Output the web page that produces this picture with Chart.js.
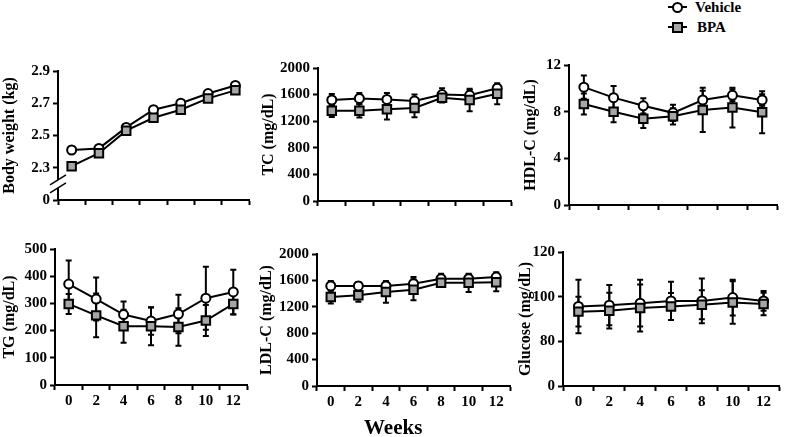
<!DOCTYPE html>
<html>
<head>
<meta charset="utf-8">
<script src="https://cdn.jsdelivr.net/npm/chart.js@4"></script>
<style>
  html, body { margin: 0; padding: 0; background: #fff; }
  #fig { position: relative; width: 787px; height: 437px; overflow: hidden;
         font-family: 'Liberation Serif', 'Times New Roman', serif; font-weight: bold; color: #000; }
  #fig canvas { position: absolute; }
  .txt { position: absolute; white-space: nowrap; line-height: 1; }
  .mk-line { position: absolute; height: 2px; background: #000; }
  .mk-circ { position: absolute; width: 7px; height: 7px; border: 2px solid #000; border-radius: 50%; background: #fff; }
  .mk-sq { position: absolute; width: 7px; height: 7px; border: 2px solid #000; background: #a6a6a6; }
</style>
</head>
<body>
<div id="fig">
  <canvas id="bw"></canvas>
  <canvas id="tc"></canvas>
  <canvas id="hdl"></canvas>
  <canvas id="tg"></canvas>
  <canvas id="ldl"></canvas>
  <canvas id="glu"></canvas>

  <!-- legend -->
  <div class="mk-line" style="left:668px; top:6px; width:19px;"></div>
  <div class="mk-circ" style="left:672px; top:2px;"></div>
  <div class="txt" style="left:695px; top:0px; font-size:15px;">Vehicle</div>
  <div class="mk-line" style="left:668px; top:26px; width:19px;"></div>
  <div class="mk-sq" style="left:672px; top:22px;"></div>
  <div class="txt" style="left:697px; top:20px; font-size:15px;">BPA</div>

  <div class="txt" style="left:364px; top:417px; font-size:21px;">Weeks</div>
</div>

<script>
// weeks on x
const weeks = ['0', '2', '4', '6', '8', '10', '12'];

// Body weight (kg)
const bwVehicle = [2.41, 2.42, 2.55, 2.66, 2.70, 2.76, 2.81];
const bwBPA = [2.31, 2.39, 2.53, 2.61, 2.66, 2.73, 2.78];
const bwVehicleSD = [0.02, 0.02, 0.02, 0.02, 0.02, 0.02, 0.02];
const bwBPASD = [0.02, 0.02, 0.02, 0.02, 0.02, 0.02, 0.02];
const bwTicks = [2.1, 2.3, 2.5, 2.7, 2.9];
const bwTickLabels = ['0', '2.3', '2.5', '2.7', '2.9'];

// TC (mg/dL)
const tcVehicle = [1519, 1543, 1528, 1504, 1600, 1590, 1696];
const tcBPA = [1356, 1356, 1380, 1399, 1552, 1519, 1614];
const tcVehicleSD = [90, 80, 96, 96, 96, 80, 48];
const tcBPASD = [91, 100, 153, 139, 72, 168, 158];
const tcTicks = [0, 400, 800, 1200, 1600, 2000];

// HDL-C (mg/dL)
const hdlVehicle = [10.1, 9.2, 8.5, 7.9, 9.0, 9.4, 9.0];
const hdlBPA = [8.65, 8.0, 7.4, 7.6, 8.15, 8.35, 7.95];
const hdlVehicleSD = [1.0, 1.0, 0.65, 0.7, 0.8, 0.5, 0.5];
const hdlBPASD = [0.9, 0.9, 0.8, 0.7, 1.9, 1.7, 1.8];
const hdlTicks = [0, 4, 8, 12];

// TG (mg/dL)
const tgVehicle = [371, 316, 259, 235, 261, 319, 342];
const tgBPA = [298, 256, 216, 216, 213, 237, 298];
const tgVehicleSD = [87, 79, 48, 50, 71, 116, 82];
const tgBPASD = [37, 80, 61, 70, 69, 57, 39];
const tgTicks = [0, 100, 200, 300, 400, 500];

// LDL-C (mg/dL)
const ldlVehicle = [1516, 1516, 1516, 1550, 1625, 1625, 1650];
const ldlBPA = [1350, 1375, 1424, 1459, 1563, 1563, 1573];
const ldlVehicleSD = [74, 60, 70, 100, 75, 65, 75];
const ldlBPASD = [100, 100, 164, 159, 40, 139, 139];
const ldlTicks = [0, 400, 800, 1200, 1600, 2000];

// Glucose (mg/dL)
const gluVehicle = [95.6, 96.2, 97.1, 98.1, 98.1, 99.6, 98.1];
const gluBPA = [93.3, 93.7, 94.9, 95.6, 96.4, 97.4, 96.7];
const gluVehicleSD = [12, 9, 10.5, 8.6, 10, 8, 4.4];
const gluBPASD = [6.7, 8, 10.5, 6, 6.5, 9.5, 5];
const gluTicks = [60, 80, 100, 120];
const gluTickLabels = ['0', '80', '100', '120'];

const serif = "'Liberation Serif', 'Times New Roman', serif";
const tickFont = { family: serif, size: 15, weight: 'bold' };
const titleFont = { family: serif, size: 16, weight: 'bold' };

// error bars under the markers
const errorBars = {
  id: 'errorBars',
  beforeDatasetsDraw(chart) {
    const ctx = chart.ctx;
    const yScale = chart.scales.y;
    ctx.save();
    ctx.strokeStyle = '#000';
    ctx.lineWidth = 2;
    chart.data.datasets.forEach((ds, i) => {
      if (!ds.sd) return;
      chart.getDatasetMeta(i).data.forEach((pt, j) => {
        const hi = yScale.getPixelForValue(ds.data[j] + ds.sd[j]);
        const lo = yScale.getPixelForValue(ds.data[j] - ds.sd[j]);
        ctx.beginPath();
        ctx.moveTo(pt.x, hi); ctx.lineTo(pt.x, lo);
        ctx.moveTo(pt.x - 3, hi); ctx.lineTo(pt.x + 3, hi);
        ctx.moveTo(pt.x - 3, lo); ctx.lineTo(pt.x + 3, lo);
        ctx.stroke();
      });
    });
    ctx.restore();
  }
};

// the // mark on a broken y axis
const axisBreak = {
  id: 'axisBreak',
  afterDraw(chart, args, opts) {
    const ctx = chart.ctx;
    const x = chart.chartArea.left;
    const y = chart.scales.y.getPixelForValue(opts.value);
    ctx.save();
    ctx.fillStyle = '#fff';
    ctx.fillRect(x - 3, y - 4, 6, 8);
    ctx.strokeStyle = '#000';
    ctx.lineWidth = 1.5;
    [-4, 4].forEach(dy => {
      ctx.beginPath();
      ctx.moveTo(x - 8, y + dy + 5);
      ctx.lineTo(x + 8, y + dy - 5);
      ctx.stroke();
    });
    ctx.restore();
  }
};

function series(vehicle, vehicleSD, bpa, bpaSD) {
  return [{
    label: 'Vehicle',
    data: vehicle,
    sd: vehicleSD,
    order: 2,
    borderColor: '#000',
    borderWidth: 2,
    pointStyle: 'circle',
    pointRadius: 4.5,
    pointBackgroundColor: '#fff',
    pointBorderColor: '#000',
    pointBorderWidth: 2,
    clip: false
  }, {
    label: 'BPA',
    data: bpa,
    sd: bpaSD,
    order: 1,
    borderColor: '#000',
    borderWidth: 2,
    pointStyle: 'rect',
    pointRadius: 6,
    pointBackgroundColor: '#a6a6a6',
    pointBorderColor: '#000',
    pointBorderWidth: 2,
    clip: false
  }];
}

// p.area = [left, top, right, bottom] of the plot frame, p.yWidth = room for y labels + title
function makePanel(p) {
  const padTop = 10;
  const padRight = Math.min(8, 787 - p.area[2]);
  const xHeight = p.showX ? 30 : 8;
  const canvas = document.getElementById(p.id);
  const w = p.yWidth + (p.area[2] - p.area[0]) + padRight;
  const h = padTop + (p.area[3] - p.area[1]) + xHeight;
  canvas.width = w; canvas.height = h;
  canvas.style.width = w + 'px'; canvas.style.height = h + 'px';
  canvas.style.left = (p.area[0] - p.yWidth) + 'px';
  canvas.style.top = (p.area[1] - padTop) + 'px';

  const labels = p.tickLabels || p.ticks.map(String);
  const plugins = [errorBars];
  if (p.breakAt) plugins.push(axisBreak);

  return new Chart(canvas, {
    type: 'line',
    data: { labels: weeks, datasets: p.datasets },
    plugins: plugins,
    options: {
      responsive: false,
      animation: false,
      layout: { padding: { top: padTop, right: padRight, bottom: 0, left: 0 } },
      plugins: {
        legend: { display: false },
        tooltip: { enabled: false },
        axisBreak: { value: p.breakAt }
      },
      elements: { line: { tension: 0 } },
      scales: {
        x: {
          type: 'category',
          offset: true,
          grid: { offset: true, drawOnChartArea: false, tickLength: 5, tickWidth: 2, tickColor: '#000' },
          border: { color: '#000', width: 2 },
          ticks: { display: p.showX, color: '#000', font: tickFont, padding: 2, maxRotation: 0, autoSkip: false },
          afterFit(s) { s.height = xHeight; }
        },
        y: {
          min: p.ticks[0],
          max: p.ticks[p.ticks.length - 1],
          afterBuildTicks(s) { s.ticks = p.ticks.map(v => ({ value: v })); },
          grid: { drawOnChartArea: false, tickLength: 5, tickWidth: 2, tickColor: '#000' },
          border: { color: '#000', width: 2 },
          ticks: { color: '#000', font: tickFont, padding: 3, autoSkip: false, callback: (v, i) => labels[i] },
          title: { display: true, text: p.title, color: '#000', font: titleFont, padding: 0 },
          afterFit(s) { s.width = p.yWidth; }
        }
      }
    }
  });
}

makePanel({ id: 'bw', area: [58, 69, 249, 204], yWidth: 58, showX: false,
  title: 'Body weight (kg)', ticks: bwTicks, tickLabels: bwTickLabels, breakAt: 2.2,
  datasets: series(bwVehicle, bwVehicleSD, bwBPA, bwBPASD) });

makePanel({ id: 'tc', area: [318, 66, 511, 205], yWidth: 59, showX: false,
  title: 'TC (mg/dL)', ticks: tcTicks,
  datasets: series(tcVehicle, tcVehicleSD, tcBPA, tcBPASD) });

makePanel({ id: 'hdl', area: [569, 63, 777, 209], yWidth: 48, showX: false,
  title: 'HDL-C (mg/dL)', ticks: hdlTicks,
  datasets: series(hdlVehicle, hdlVehicleSD, hdlBPA, hdlBPASD) });

makePanel({ id: 'tg', area: [55, 247, 247, 385], yWidth: 55, showX: true,
  title: 'TG (mg/dL)', ticks: tgTicks,
  datasets: series(tgVehicle, tgVehicleSD, tgBPA, tgBPASD) });

makePanel({ id: 'ldl', area: [317, 252, 510, 386], yWidth: 60, showX: true,
  title: 'LDL-C (mg/dL)', ticks: ldlTicks,
  datasets: series(ldlVehicle, ldlVehicleSD, ldlBPA, ldlBPASD) });

makePanel({ id: 'glu', area: [563, 250, 785, 386], yWidth: 47, showX: true,
  title: 'Glucose (mg/dL)', ticks: gluTicks, tickLabels: gluTickLabels,
  datasets: series(gluVehicle, gluVehicleSD, gluBPA, gluBPASD) });
</script>
</body>
</html>
